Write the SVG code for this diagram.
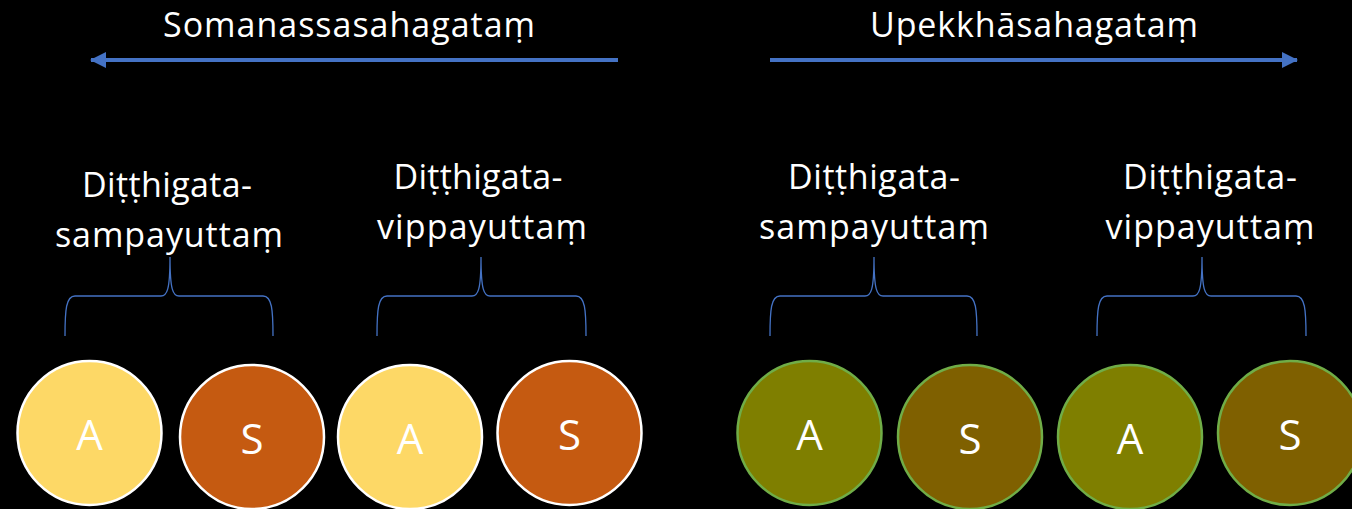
<svg xmlns="http://www.w3.org/2000/svg" width="1352" height="509" viewBox="0 0 1352 509">
  <style>
    .lbl { font-family: "Open Sans", "Noto Sans", "Liberation Sans", sans-serif; font-size: 34px; fill: #ffffff; text-anchor: middle; }
    .big { font-family: "Open Sans", "Noto Sans", "Liberation Sans", sans-serif; font-size: 42px; fill: #ffffff; text-anchor: middle; }
    .arrow { stroke: #4472C4; stroke-width: 4; fill: none; }
    .brace { stroke: #4472C4; stroke-width: 1.3; fill: none; }
    .warm { stroke: #ffffff; stroke-width: 2.5; }
    .cool { stroke: #70AD47; stroke-width: 2.5; }
    .ay { fill: #FDD866; }
    .so { fill: #C55A11; }
    .ag { fill: #7F7F00; }
    .sg { fill: #7F6000; }
  </style>
  <defs>
    <marker id="head" viewBox="0 0 16 16" refX="15" refY="8" markerWidth="16" markerHeight="16" markerUnits="userSpaceOnUse" orient="auto">
      <path d="M0,0 L16,8 L0,16 Z" fill="#4472C4"/>
    </marker>
  </defs>
  <rect width="1352" height="509" fill="#000000"/>

  <!-- direction arrows and grouping braces -->
  <g id="connectors">
    <line class="arrow" x1="618" y1="60" x2="91" y2="60" marker-end="url(#head)"/>
    <line class="arrow" x1="770" y1="60" x2="1297" y2="60" marker-end="url(#head)"/>
    <path class="brace" d="M65,336 C65,310 66,296 75,296 H161 C167,296 170,290 170,257 C170,290 173,296 179,296 H263 C272,296 273,310 273,336"/>
    <path class="brace" d="M377,336 C377,310 378,296 387,296 H472 C478,296 481,290 481,257 C481,290 484,296 490,296 H576 C585,296 586,310 586,336"/>
    <path class="brace" d="M770,336 C770,310 771,296 780,296 H865 C871,296 874,290 874,257 C874,290 877,296 883,296 H967 C976,296 977,310 977,336"/>
    <path class="brace" d="M1097,336 C1097,310 1098,296 1107,296 H1193 C1199,296 1202,290 1202,257 C1202,290 1205,296 1211,296 H1296 C1305,296 1306,310 1306,336"/>
  </g>

  <!-- headings -->
  <g id="title-somanassa">
    <text class="lbl" x="349" y="37" textLength="372">Somanassasahagataṃ</text>
  </g>
  <g id="title-upekkha">
    <text class="lbl" x="1034" y="37" textLength="328">Upekkhāsahagataṃ</text>
  </g>

  <!-- group labels -->
  <g id="label-1">
    <text class="lbl" x="167" y="197" textLength="170">Diṭṭhigata-</text>
    <text class="lbl" x="169" y="247" textLength="228">sampayuttaṃ</text>
  </g>
  <g id="label-2">
    <text class="lbl" x="478" y="189" textLength="169">Diṭṭhigata-</text>
    <text class="lbl" x="482" y="239" textLength="210">vippayuttaṃ</text>
  </g>
  <g id="label-3">
    <text class="lbl" x="874" y="189" textLength="172">Diṭṭhigata-</text>
    <text class="lbl" x="874" y="239" textLength="230">sampayuttaṃ</text>
  </g>
  <g id="label-4">
    <text class="lbl" x="1210" y="189" textLength="174">Diṭṭhigata-</text>
    <text class="lbl" x="1210" y="239" textLength="209">vippayuttaṃ</text>
  </g>

  <!-- circles -->
  <g id="circle-a1">
    <circle class="ay warm" cx="89.5" cy="433" r="72"/>
    <text class="big" x="89.5" y="450">A</text>
  </g>
  <g id="circle-s1">
    <circle class="so warm" cx="252" cy="437" r="72"/>
    <text class="big" x="252" y="454">S</text>
  </g>
  <g id="circle-a2">
    <circle class="ay warm" cx="410" cy="437" r="72"/>
    <text class="big" x="410" y="454">A</text>
  </g>
  <g id="circle-s2">
    <circle class="so warm" cx="569.5" cy="433" r="72"/>
    <text class="big" x="569.5" y="450">S</text>
  </g>
  <g id="circle-a3">
    <circle class="ag cool" cx="809.5" cy="433" r="72"/>
    <text class="big" x="809.5" y="450">A</text>
  </g>
  <g id="circle-s3">
    <circle class="sg cool" cx="970" cy="437" r="72"/>
    <text class="big" x="970" y="454">S</text>
  </g>
  <g id="circle-a4">
    <circle class="ag cool" cx="1130" cy="437" r="72"/>
    <text class="big" x="1130" y="454">A</text>
  </g>
  <g id="circle-s4">
    <circle class="sg cool" cx="1290" cy="433" r="72"/>
    <text class="big" x="1290" y="450">S</text>
  </g>
</svg>
